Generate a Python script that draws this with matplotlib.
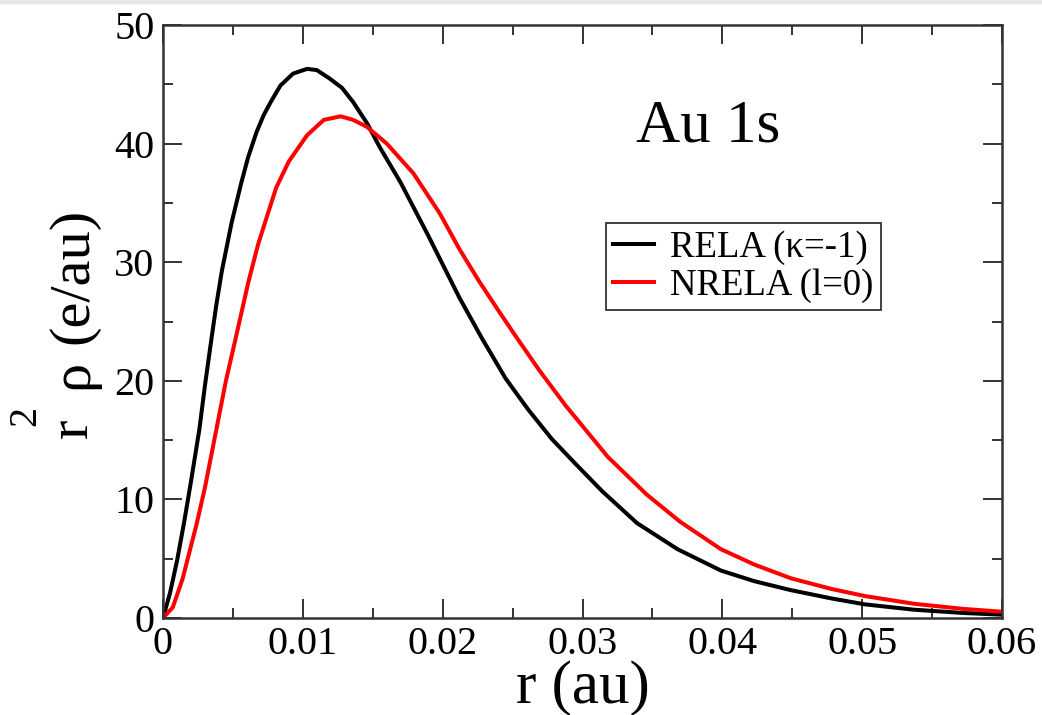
import matplotlib
matplotlib.use("Agg")
import matplotlib.pyplot as plt
from matplotlib.patches import Rectangle

# radial density r^2*rho for the Au 1s orbital, relativistic (kappa=-1)
r_rela = [0.0, 0.0005, 0.001, 0.0015, 0.002, 0.0026, 0.003, 0.0034, 0.0038,
          0.0042, 0.0049, 0.0056, 0.0061, 0.0067, 0.0072, 0.0077, 0.0084,
          0.0093, 0.0103, 0.011, 0.0119, 0.0128, 0.0136, 0.0146, 0.0155,
          0.017, 0.0189, 0.0212, 0.0228, 0.0245, 0.0261, 0.0278, 0.0295,
          0.0314, 0.0339, 0.0368, 0.0399, 0.0423, 0.0449, 0.0478, 0.0502,
          0.0537, 0.0573, 0.06]
rho_rela = [0.0, 2.1, 4.8, 8.0, 11.5, 15.9, 19.6, 23.0, 26.3,
            29.2, 33.3, 36.7, 38.9, 41.0, 42.4, 43.5, 44.9,
            45.9, 46.3, 46.2, 45.5, 44.7, 43.5, 41.7, 39.7,
            36.7, 32.4, 27.0, 23.6, 20.2, 17.6, 15.1, 13.0,
            10.7, 8.0, 5.8, 4.0, 3.1, 2.35, 1.65, 1.15,
            0.7, 0.42, 0.28]

# non-relativistic (l=0)
r_nrela = [0.0, 0.0007, 0.0014, 0.0024, 0.003, 0.0035, 0.004, 0.0045, 0.0052,
           0.0061, 0.0068, 0.0075, 0.0081, 0.009, 0.0103, 0.0115, 0.0127,
           0.0136, 0.0146, 0.016, 0.0179, 0.0198, 0.0212, 0.0226, 0.024,
           0.0252, 0.0269, 0.0288, 0.0302, 0.0318, 0.0346, 0.037, 0.0399,
           0.0423, 0.0449, 0.0478, 0.0502, 0.0537, 0.0573, 0.06]
rho_nrela = [0.0, 0.9, 3.3, 7.9, 11.0, 14.0, 17.0, 20.0, 23.6,
             28.3, 31.5, 34.1, 36.3, 38.5, 40.7, 42.0, 42.3,
             42.0, 41.4, 40.0, 37.5, 34.1, 31.1, 28.4, 25.9,
             23.8, 20.9, 17.9, 15.9, 13.6, 10.4, 8.1, 5.8,
             4.5, 3.35, 2.45, 1.85, 1.2, 0.76, 0.53]

x_ticks = [0, 0.01, 0.02, 0.03, 0.04, 0.05, 0.06]
x_ticklabels = ["0", "0.01", "0.02", "0.03", "0.04", "0.05", "0.06"]
y_ticks = [0, 10, 20, 30, 40, 50]

plt.rcParams["font.family"] = ["Liberation Serif", "DejaVu Serif"]

W, H = 1042, 715
fig = plt.figure(figsize=(W / 100, H / 100), dpi=100)


def fx(px):
    return px / W


def fy(py):
    return 1 - py / H


fig.patches.append(Rectangle((0, fy(3)), 1, 3 / H, transform=fig.transFigure,
                             color="#e8e8e8", zorder=0))
ax = fig.add_axes([fx(163), fy(618), (1002 - 163) / W, (618 - 25) / H])

ax.plot(r_rela, rho_rela, color="black", lw=2.9, label="RELA (\u03ba=-1)")
ax.plot(r_nrela, rho_nrela, color="#ff0000", lw=2.9, label="NRELA (l=0)")

ax.set_xlim(0, 0.06)
ax.set_ylim(0, 50)
ax.set_xticks(x_ticks)
ax.set_xticklabels(x_ticklabels)
ax.set_yticks(y_ticks)
ax.set_xticks([0.005 + 0.01 * i for i in range(6)], minor=True)
ax.set_yticks([5 + 10 * i for i in range(5)], minor=True)
ax.tick_params(which="both", direction="in", top=True, right=True, width=1.4,
               labelsize=29, color="#333333", pad=6)
ax.tick_params(which="major", length=14)
ax.tick_params(which="minor", length=7)
for side in ["left", "right", "top", "bottom"]:
    ax.spines[side].set_linewidth(1.8)
    ax.spines[side].set_color("#333333")

# axis titles, set piece by piece as in the grace output
fig.text(fx(583), fy(703), "r (au)", fontsize=44, ha="center", va="baseline")
ylab = dict(rotation=90, rotation_mode="anchor", va="baseline", ha="left")
fig.text(fx(87), fy(438), "r", fontsize=42, **ylab)
fig.text(fx(35), fy(426), "2", fontsize=29, **ylab)
fig.text(fx(87), fy(389), "\u03c1", fontsize=42, **ylab)
fig.text(fx(87), fy(344), "(e/au)", fontsize=42, **ylab)

fig.text(fx(708), fy(142), "Au 1s", fontsize=44, ha="center", va="baseline")

leg = ax.legend(loc="upper left", bbox_to_anchor=((606 - 163) / 839, (618 - 223) / 593),
                fontsize=26.5, frameon=True, fancybox=False, handlelength=1.1,
                handletextpad=0.45, borderpad=0.2, labelspacing=0.08, borderaxespad=0)
leg.get_frame().set_edgecolor("black")
leg.get_frame().set_linewidth(1.3)

fig.savefig("out.png", dpi=100)
